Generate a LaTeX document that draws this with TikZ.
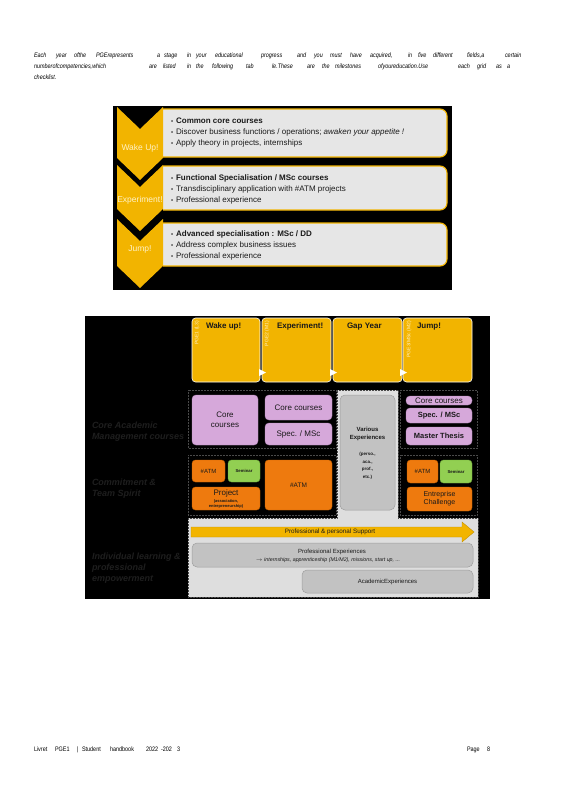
\documentclass[tikz,border=0pt]{standalone}
\usepackage{fontspec}
\setmainfont{Liberation Sans}
\newfontfamily\narrowfont[FakeStretch=0.84]{Liberation Sans}
\definecolor{cyel}{HTML}{F2B400}
\definecolor{cpanel}{HTML}{E6E6E6}
\definecolor{clil}{HTML}{D6A8DA}
\definecolor{clilb}{HTML}{B98BBE}
\definecolor{corg}{HTML}{EE7A0E}
\definecolor{corgb}{HTML}{C86200}
\definecolor{cgrn}{HTML}{92CF52}
\definecolor{cgrnb}{HTML}{6FA83A}
\definecolor{cgbox}{HTML}{C2C2C2}
\definecolor{cgboxb}{HTML}{9E9E9E}
\definecolor{cregion}{HTML}{DEDEDE}
\definecolor{cdots}{HTML}{4A4A4A}
\definecolor{clabel}{HTML}{1E1E1E}
\definecolor{cchev}{HTML}{FFF2C6}
\definecolor{ctxt}{HTML}{1A1A1A}
\begin{document}
\begin{tikzpicture}[x=1pt,y=-1pt,
  every node/.style={inner sep=0pt, outer sep=0pt},
  para/.style={anchor=base west, font=\narrowfont\itshape\fontsize{6.5}{7}\selectfont},
  foot/.style={anchor=base west, font=\narrowfont\fontsize{6.5}{7}\selectfont},
  chev/.style={fill=cyel},
  chevlabel/.style={text=cchev, font=\fontsize{8.5}{9}\selectfont},
  panel/.style={fill=cpanel, draw=cyel, line width=1.1pt, rounded corners=7pt},
  ptext/.style={anchor=base west, font=\fontsize{8}{9}\selectfont, text=ctxt},
  topbox/.style={fill=cyel, draw=white, line width=0.6pt, rounded corners=3.5pt},
  toptitle/.style={anchor=base west, font=\bfseries\fontsize{8}{9}\selectfont, text=ctxt},
  vlabel/.style={rotate=90, anchor=east, text=cchev, font=\fontsize{5}{5}\selectfont},
  lil/.style={fill=clil, draw=clilb, line width=0.4pt, rounded corners=4pt, align=center, font=\fontsize{8}{10}\selectfont, text=ctxt},
  org/.style={fill=corg, draw=corgb, line width=0.4pt, rounded corners=3.5pt, align=center, text=ctxt},
  grn/.style={fill=cgrn, draw=cgrnb, line width=0.4pt, rounded corners=3.5pt, align=center, text=ctxt, font=\bfseries\fontsize{4.3}{5}\selectfont},
  gbox/.style={fill=cgbox, draw=cgboxb, line width=0.5pt, rounded corners=5pt, align=center, text=ctxt},
  group/.style={draw=cdots, densely dotted, line width=0.5pt},
  side/.style={anchor=base west, text=clabel, font=\bfseries\itshape\fontsize{9}{11}\selectfont},
  small/.style={align=center, text=ctxt}
]
\useasboundingbox (0,0) rectangle (566,800);
\fill[white] (0,0) rectangle (566,800);

% ---------- intro paragraph ----------
\foreach \px/\w [count=\i] in {34/Each, 56/year, 74/ofthe, 96/PGErepresents, 157/a, 164/stage, 187/in, 196/your, 215/educational, 261/progress, 297/and, 314/you, 330/must, 350/have, 370/{acquired,}, 408/in, 418/five, 433/different, 467/{fields,a}, 505/certain}
  \node[para] (wa\i) at (\px,58) {\w};
\foreach \px/\w [count=\i] in {34/{numberofcompetencies,which}, 149/are, 163/listed, 187/in, 196/the, 212/following, 246/tab, 272/le.These, 307/are, 322/the, 335/milestones, 378/ofyoureducation.Use, 458/each, 477/grid, 496/as, 507/a}
  \node[para] (wb\i) at (\px,69) {\w};
\node[para] (wc1) at (34,80) {checklist.};

% ---------- diagram 1 ----------
\fill[black] (113,106) rectangle (452,290);
\path[panel] (163,109) -- (447,109) -- (447,157) -- (163,157);
\path[panel] (163,166) -- (447,166) -- (447,210) -- (163,210);
\path[panel] (163,223) -- (447,223) -- (447,266) -- (163,266);
\fill[chev] (117,107) -- (140,129) -- (163,107) -- (163,158) -- (140,180) -- (117,158) -- cycle;
\fill[chev] (117,165) -- (140,187) -- (163,165) -- (163,209) -- (140,231) -- (117,209) -- cycle;
\fill[chev] (117,219) -- (140,241) -- (163,219) -- (163,266) -- (140,288) -- (117,266) -- cycle;
\node[chevlabel] (c1) at (140,148) {Wake Up!};
\node[chevlabel] (c2) at (140,200) {Experiment!};
\node[chevlabel] (c3) at (140,249) {Jump!};

\newcommand{\bul}{{\fontsize{6}{6}\selectfont\textbullet}\hspace{3pt}}
\node[ptext] (p11) at (171,123) {\bul\textbf{Common core courses}};
\node[ptext] (p12) at (171,134) {\bul Discover business functions / operations; \textit{awaken your appetite !}};
\node[ptext] (p13) at (171,145) {\bul Apply theory in projects, internships};
\node[ptext] (p21) at (171,180) {\bul\textbf{Functional Specialisation / MSc courses}};
\node[ptext] (p22) at (171,191) {\bul Transdisciplinary application with \#ATM projects};
\node[ptext] (p23) at (171,202) {\bul Professional experience};
\node[ptext] (p31) at (171,236) {\bul\textbf{Advanced specialisation : MSc / DD}};
\node[ptext] (p32) at (171,247) {\bul Address complex business issues};
\node[ptext] (p33) at (171,258) {\bul Professional experience};

% ---------- diagram 2 ----------
\fill[black] (85,316) rectangle (490,599);

% top yellow boxes
\node[topbox, minimum width=68pt, minimum height=64pt] (wake) at (226,350) {};
\node[topbox, minimum width=69pt, minimum height=64pt] (exp) at (296.5,350) {};
\node[topbox, minimum width=69pt, minimum height=64pt] (gap) at (367.5,350) {};
\node[topbox, minimum width=69pt, minimum height=64pt] (jump) at (437.5,350) {};
\node[toptitle] (wakeT) at (206,328) {Wake up!};
\node[toptitle] (expT) at (277,328) {Experiment!};
\node[toptitle] (gapT) at (347,328) {Gap Year};
\node[toptitle] (jumpT) at (417,328) {Jump!};
\node[vlabel] (wakeV) at (197,321) {PGE1 (L3)};
\node[vlabel] (expV) at (267,321) {PGE2 (M1)};
\node[vlabel] (jumpV) at (409,321) {PGE3/MSc (M2)};
\foreach \bx in {259,330,400}
  \fill[white] (\bx,369) -- (\bx+7,372.5) -- (\bx,376) -- cycle;

% light gray region
\path[fill=cregion, group] (337,390) -- (398,390) -- (398,518) -- (478,518) -- (478,597) -- (188,597) -- (188,518) -- (337,518) -- cycle;

% group frames
\draw[group] (188,390) rectangle (336,448);
\draw[group] (188,455) rectangle (336,515);
\draw[group] (400,390) rectangle (477,448);
\draw[group] (400,455) rectangle (477,515);

% row 1
\node[lil, minimum width=66pt, minimum height=50pt] (core1) at (225,420) {Core\\courses};
\node[lil, minimum width=67pt, minimum height=25pt] (core2) at (298.5,407.5) {Core courses};
\node[lil, minimum width=67pt, minimum height=22pt] (spec2) at (298.5,434) {Spec. / MSc};
\node[gbox, minimum width=55pt, minimum height=115pt] (various) at (367.5,452.5) {};
\node[small, font=\bfseries\fontsize{6}{8}\selectfont] (varT) at (367.5,434) {Various\\Experiences};
\node[small, font=\bfseries\fontsize{4.5}{7.5}\selectfont] (varS) at (367.5,466) {(perso.,\\aca.,\\prof.,\\etc.)};
\node[lil, minimum width=66pt, minimum height=9pt] (core4) at (439,400.5) {Core courses};
\node[lil, minimum width=66pt, minimum height=15pt, font=\bfseries\fontsize{7.5}{9}\selectfont] (spec4) at (439,415.5) {Spec. / MSc};
\node[lil, minimum width=66pt, minimum height=18pt, font=\bfseries\fontsize{7.5}{9}\selectfont] (thesis4) at (439,436) {Master Thesis};

% row 2
\node[org, minimum width=33pt, minimum height=22pt, font=\fontsize{6}{7}\selectfont] (atm1) at (208.5,471) {\#ATM};
\node[grn, minimum width=32pt, minimum height=22pt] (sem1) at (244,471) {Seminar};
\node[org, minimum width=68pt, minimum height=23pt] (proj1) at (226,498.5) {};
\node[small, font=\fontsize{8}{9}\selectfont] (projT) at (226,493) {Project};
\node[small, font=\bfseries\fontsize{4}{5}\selectfont] (projS) at (226,503.5) {(association,\\entrepreneurship)};
\node[org, minimum width=67pt, minimum height=50pt, font=\fontsize{6.5}{7}\selectfont] (atm2) at (298.5,485) {\#ATM};
\node[org, minimum width=31pt, minimum height=23pt, font=\fontsize{6}{7}\selectfont] (atm4) at (422.5,471.5) {\#ATM};
\node[grn, minimum width=32pt, minimum height=23pt] (sem4) at (456,471.5) {Seminar};
\node[org, minimum width=65pt, minimum height=24pt, font=\fontsize{7}{8}\selectfont] (ent4) at (439.5,499) {Entreprise\\Challenge};

% row 3
\path[fill=cyel, draw=cyel!80!black, line width=0.4pt] (191,527) -- (462,527) -- (462,522) -- (474,532) -- (462,542) -- (462,537) -- (191,537) -- cycle;
\node[small, font=\fontsize{6.3}{7}\selectfont] (supT) at (330,532) {Professional \& personal Support};
\node[gbox, minimum width=281pt, minimum height=24pt] (profexp) at (332.5,555) {};
\node[small, font=\fontsize{6}{7}\selectfont] (profT) at (332,551.5) {Professional Experiences};
\node[small, font=\fontsize{5.3}{6}\selectfont] (profS) at (328,560) {$\rightarrow$ \textit{internships, apprenticeship (M1/M2), missions, start up, ...}};
\node[gbox, minimum width=171pt, minimum height=23pt, font=\fontsize{6}{7}\selectfont] (acad) at (387.5,581.5) {AcademicExperiences};

% side labels
\node[side] (s1a) at (92,428) {Core Academic};
\node[side] (s1b) at (92,439) {Management courses};
\node[side] (s2a) at (92,485) {Commitment \&};
\node[side] (s2b) at (92,496) {Team Spirit};
\node[side] (s3a) at (92,559) {Individual learning \&};
\node[side] (s3b) at (92,570) {professional};
\node[side] (s3c) at (92,581) {empowerment};

% ---------- footer ----------
\foreach \px/\w [count=\i] in {34/Livret, 55/PGE1, 77/|, 82/Student, 110/handbook, 146/2022, 161/-202, 177/3, 467/Page, 487/8}
  \node[foot] (f\i) at (\px,751) {\w};
\end{tikzpicture}
\end{document}
